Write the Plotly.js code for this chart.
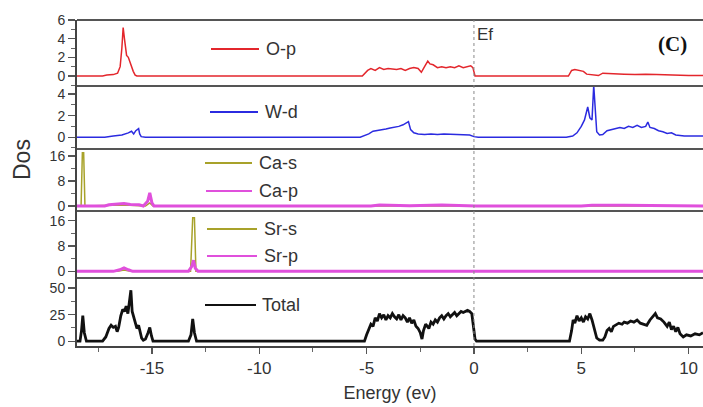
<!DOCTYPE html>
<html>
<head>
<meta charset="utf-8">
<script src="https://cdn.plot.ly/plotly-3.0.1.min.js"></script>
<style>
  html, body { margin: 0; padding: 0; background: #fff; }
  #chart { width: 703px; height: 407px; }
</style>
</head>
<body>
<div id="chart"></div>
<script>
// Partial and total density of states, [energy (eV), DOS] pairs
const opPoints = [
  [-18.49, 0], [-17.3, 0], [-17.1, 0.1], [-16.8, 0.15], [-16.6, 0.3], [-16.48, 1.0], [-16.4, 3.0],
  [-16.34, 5.2], [-16.28, 4.0], [-16.22, 2.6], [-16.18, 2.2], [-16.1, 2.0], [-16.02, 1.4],
  [-15.95, 1.0], [-15.87, 0.5], [-15.78, 0.1], [-15.7, 0], [-5.2, 0], [-5.05, 0.4], [-4.95, 0.6],
  [-4.8, 0.8], [-4.6, 0.6], [-4.4, 0.9], [-4.2, 0.7], [-4.0, 0.8], [-3.8, 0.75], [-3.6, 0.7],
  [-3.4, 0.8], [-3.2, 0.6], [-3.0, 0.8], [-2.8, 0.9], [-2.6, 0.8], [-2.45, 0.4], [-2.3, 1.0],
  [-2.15, 1.6], [-2.05, 1.3], [-1.9, 1.2], [-1.7, 0.9], [-1.5, 1.0], [-1.3, 0.9], [-1.1, 1.0],
  [-0.9, 0.9], [-0.7, 1.1], [-0.5, 0.9], [-0.3, 1.0], [-0.15, 1.1], [-0.05, 0.9], [0.05, 0],
  [4.4, 0], [4.55, 0.6], [4.7, 0.7], [4.9, 0.6], [5.1, 0.5], [5.25, 0.2], [5.4, 0.15], [5.6, 0.1],
  [5.8, 0.05], [6.0, 0.3], [6.3, 0.25], [6.6, 0.2], [7.0, 0.2], [7.5, 0.15], [8.0, 0.2], [8.5, 0.15],
  [9.0, 0.1], [9.5, 0.1], [10.0, 0.05], [10.67, 0.05]
];

const wdPoints = [
  [-18.49, 0], [-17.2, 0], [-16.8, 0.1], [-16.4, 0.2], [-16.1, 0.4], [-15.95, 0.55], [-15.85, 0.3],
  [-15.75, 0.6], [-15.62, 0.8], [-15.57, 0.3], [-15.5, 0.05], [-15.3, 0], [-5.3, 0], [-5.1, 0.15],
  [-4.9, 0.3], [-4.7, 0.55], [-4.5, 0.6], [-4.3, 0.7], [-4.1, 0.75], [-3.9, 0.85], [-3.7, 0.9],
  [-3.5, 1.0], [-3.3, 1.15], [-3.15, 1.3], [-3.05, 1.45], [-2.95, 0.7], [-2.8, 0.4], [-2.6, 0.3],
  [-2.3, 0.25], [-2.0, 0.3], [-1.7, 0.25], [-1.4, 0.3], [-1.0, 0.25], [-0.6, 0.25], [-0.2, 0.2],
  [0.0, 0.05], [0.2, 0], [4.3, 0], [4.6, 0.1], [4.8, 0.4], [5.0, 1.0], [5.15, 1.6], [5.3, 2.8],
  [5.4, 1.8], [5.5, 1.6], [5.58, 4.8], [5.65, 2.0], [5.72, 0.5], [5.85, 0.2], [6.0, 0.25],
  [6.2, 0.6], [6.4, 0.7], [6.6, 0.8], [6.8, 0.9], [7.0, 0.8], [7.2, 1.0], [7.4, 0.9], [7.6, 1.1],
  [7.8, 0.9], [8.0, 1.0], [8.1, 1.4], [8.2, 0.9], [8.4, 0.8], [8.6, 0.6], [8.8, 0.5], [9.0, 0.35],
  [9.2, 0.4], [9.4, 0.2], [9.6, 0.15], [9.8, 0.1], [10.2, 0.1], [10.67, 0.1]
];

const casPoints = [
  [-18.49, 0], [-18.3, 0], [-18.24, 17], [-18.18, 17], [-18.12, 0], [-17.2, 0], [-16.8, 0.2],
  [-16.3, 0.3], [-15.8, 0.2], [-15.3, 0], [-15.1, 1.0], [-14.95, 0], [10.67, 0]
];

const capPoints = [
  [-18.49, 0], [-17.2, 0], [-17.0, 0.4], [-16.6, 0.5], [-16.3, 0.8], [-16.0, 0.5], [-15.6, 0.4],
  [-15.4, 0], [-15.2, 1.5], [-15.1, 4.2], [-15.0, 1.0], [-14.9, 0], [-4.8, 0], [-4.4, 0.3],
  [-4.0, 0.2], [-3.5, 0.3], [-3.0, 0.1], [-1.5, 0.3], [-1.0, 0.2], [-0.2, 0.2], [0.1, 0],
  [5.0, 0], [5.5, 0.2], [7.0, 0.2], [9.0, 0.1], [10.67, 0]
];

const srsPoints = [
  [-18.49, 0], [-16.6, 0], [-16.3, 0.4], [-16.0, 0], [-13.2, 0], [-13.1, 17], [-13.02, 17],
  [-12.95, 0], [10.67, 0]
];

const srpPoints = [
  [-18.49, 0], [-16.8, 0], [-16.5, 0.5], [-16.3, 1.1], [-16.1, 0.5], [-15.9, 0], [-13.3, 0],
  [-13.15, 1.5], [-13.06, 3.5], [-12.98, 1.0], [-12.85, 0], [-4.5, 0], [-4.0, 0.2], [-3.0, 0.2],
  [-1.0, 0.2], [0.0, 0], [10.67, 0]
];

const totalPoints = [
  [-18.49, 0], [-18.35, 0], [-18.28, 10], [-18.22, 24], [-18.15, 8], [-18.05, 0], [-17.3, 0],
  [-17.15, 4], [-17.0, 12], [-16.9, 15], [-16.8, 13], [-16.7, 14], [-16.62, 9], [-16.55, 13],
  [-16.45, 24], [-16.36, 30], [-16.28, 28], [-16.2, 33], [-16.12, 26], [-16.05, 38], [-15.98, 48],
  [-15.92, 28], [-15.85, 22], [-15.78, 18], [-15.7, 12], [-15.62, 15], [-15.55, 8], [-15.48, 3],
  [-15.4, 1], [-15.3, 2], [-15.18, 8], [-15.1, 13], [-15.02, 5], [-14.95, 0], [-13.3, 0],
  [-13.18, 6], [-13.1, 21], [-13.02, 8], [-12.92, 0], [-5.1, 0], [-5.0, 6], [-4.9, 12], [-4.8, 16],
  [-4.7, 14], [-4.6, 22], [-4.5, 19], [-4.4, 26], [-4.3, 22], [-4.2, 25], [-4.1, 20], [-4.0, 24],
  [-3.9, 22], [-3.8, 26], [-3.7, 23], [-3.6, 21], [-3.5, 25], [-3.4, 20], [-3.3, 24], [-3.2, 22],
  [-3.1, 18], [-3.0, 22], [-2.9, 17], [-2.8, 20], [-2.7, 14], [-2.6, 12], [-2.5, 8], [-2.42, 2],
  [-2.35, 10], [-2.25, 16], [-2.1, 12], [-2.0, 18], [-1.9, 16], [-1.8, 20], [-1.7, 18], [-1.6, 22],
  [-1.5, 24], [-1.4, 21], [-1.3, 24], [-1.2, 26], [-1.1, 23], [-1.0, 25], [-0.9, 27], [-0.8, 24],
  [-0.7, 26], [-0.6, 28], [-0.5, 27], [-0.4, 28], [-0.3, 29], [-0.2, 28], [-0.1, 26], [-0.03, 15],
  [0.05, 2], [0.12, 0], [4.45, 0], [4.55, 10], [4.62, 20], [4.7, 17], [4.8, 24], [4.9, 19],
  [5.0, 22], [5.1, 18], [5.2, 23], [5.3, 21], [5.4, 26], [5.5, 20], [5.58, 14], [5.65, 8],
  [5.72, 3], [5.85, 1], [6.0, 1], [6.1, 4], [6.2, 10], [6.3, 12], [6.4, 9], [6.5, 14], [6.6, 15],
  [6.75, 17], [6.9, 16], [7.0, 18], [7.15, 17], [7.3, 19], [7.45, 18], [7.6, 20], [7.75, 17],
  [7.9, 16], [8.05, 15], [8.2, 20], [8.35, 24], [8.45, 26], [8.55, 22], [8.7, 21], [8.85, 18],
  [9.0, 14], [9.1, 18], [9.2, 11], [9.3, 14], [9.4, 9], [9.5, 13], [9.6, 7], [9.75, 4], [9.9, 6],
  [10.1, 5], [10.3, 7], [10.5, 6], [10.67, 8]
];

const seriesNames = ['O-p', 'W-d', 'Ca-s', 'Ca-p', 'Sr-s', 'Sr-p', 'Total'];
const energyTicks = [-15, -10, -5, 0, 5, 10];

// Series styling: panel (y axis), colour, width, legend entry position (px)
const series = [
  { pts: opPoints,    axis: 'y',  color: '#e3262c', width: 1.5, lx0: 211, lx1: 259, ly: 49,  tx: 264 },
  { pts: wdPoints,    axis: 'y2', color: '#2b2be0', width: 1.5, lx0: 210, lx1: 258, ly: 112, tx: 263 },
  { pts: casPoints,   axis: 'y3', color: '#a8a22a', width: 1.5, lx0: 205, lx1: 252, ly: 163, tx: 257 },
  { pts: capPoints,   axis: 'y3', color: '#e050dc', width: 3,   lx0: 206, lx1: 252, ly: 191, tx: 257 },
  { pts: srsPoints,   axis: 'y4', color: '#a8a22a', width: 1.5, lx0: 207, lx1: 257, ly: 229, tx: 262 },
  { pts: srpPoints,   axis: 'y4', color: '#e050dc', width: 3,   lx0: 207, lx1: 257, ly: 256, tx: 262 },
  { pts: totalPoints, axis: 'y5', color: '#111111', width: 2.8, lx0: 205, lx1: 256, ly: 305, tx: 260 }
];

const W = 703, H = 407;
const M = { l: 77, r: 0, t: 20, b: 61 };
const plotW = W - M.l - M.r, plotH = H - M.t - M.b;
const px2x = p => (p - M.l) / plotW;
const px2y = p => (H - M.b - p) / plotH;

const traces = series.map((s, i) => ({
  type: 'scatter',
  mode: 'lines',
  name: seriesNames[i],
  x: s.pts.map(p => p[0]),
  y: s.pts.map(p => p[1]),
  yaxis: s.axis,
  xaxis: 'x',
  line: { color: s.color, width: s.width },
  showlegend: false,
  hoverinfo: 'skip'
}));

const font = 'Liberation Sans, Arial, sans-serif';
const yTickFont = { family: font, size: 14, color: '#333' };

function yAxis(domain, range, dtick, minor) {
  return {
    domain: domain, range: range, dtick: dtick, tick0: 0,
    ticks: 'outside', ticklen: 7, tickwidth: 1.3, tickcolor: '#555',
    minor: { dtick: minor, ticks: 'outside', ticklen: 4, tickwidth: 1, tickcolor: '#666', showgrid: false },
    showgrid: false, zeroline: false,
    showline: true, linecolor: '#444', linewidth: 2,
    tickfont: yTickFont, anchor: 'x', fixedrange: true
  };
}

// Panel boundaries in pixels from the top
const bounds = [20, 86, 149, 211, 278, 346];
const dom = i => [px2y(bounds[i + 1]), px2y(bounds[i])];

const shapes = [];
// horizontal panel separators
for (let i = 0; i < bounds.length - 1; i++) {
  shapes.push({ type: 'line', xref: 'paper', yref: 'paper', x0: 0, x1: 1,
    y0: px2y(bounds[i]), y1: px2y(bounds[i]), line: { color: '#555', width: 2 } });
}
// Fermi level
shapes.push({ type: 'line', xref: 'x', yref: 'paper', x0: 0, x1: 0, y0: 0, y1: 1,
  line: { color: '#8a8a8a', width: 1, dash: 'dot' } });

const annotations = [
  { xref: 'paper', yref: 'paper', x: px2x(22), y: px2y(160), xanchor: 'center', yanchor: 'middle',
    text: 'Dos', textangle: -90,
    showarrow: false, font: { family: font, size: 23, color: '#333' } },
  { xref: 'x', yref: 'paper', x: 0, y: px2y(35), xanchor: 'left', yanchor: 'middle', xshift: 1, text: 'Ef',
    showarrow: false, font: { family: font, size: 17, color: '#333' } },
  { xref: 'x', yref: 'y', x: 9.27, y: 3.43, xanchor: 'center', yanchor: 'middle', text: '<b>(C)</b>', showarrow: false,
    font: { family: 'Liberation Serif, Times New Roman, serif', size: 21, color: '#111' } }
];

// Legend entries: sample line plus series name
series.forEach((s, i) => {
  shapes.push({ type: 'line', xref: 'paper', yref: 'paper',
    x0: px2x(s.lx0), x1: px2x(s.lx1), y0: px2y(s.ly), y1: px2y(s.ly),
    line: { color: s.color, width: 2 } });
  annotations.push({ xref: 'paper', yref: 'paper', x: px2x(s.tx), y: px2y(s.ly),
    xanchor: 'left', yanchor: 'middle', text: seriesNames[i], showarrow: false,
    font: { family: font, size: 18, color: '#333' } });
});

const layout = {
  width: W, height: H,
  margin: M,
  paper_bgcolor: '#fff', plot_bgcolor: '#fff',
  showlegend: false,
  xaxis: {
    range: [-18.49, 10.67], anchor: 'y5',
    tickvals: energyTicks, ticktext: energyTicks.map(String),
    ticks: 'outside', ticklen: 6, tickwidth: 1.3, tickcolor: '#555',
    minor: { dtick: 2.5, tick0: 0, ticks: 'outside', ticklen: 4, tickwidth: 1, tickcolor: '#666', showgrid: false },
    showgrid: false, zeroline: false,
    showline: true, linecolor: '#444', linewidth: 2,
    tickfont: { family: font, size: 17, color: '#333' },
    title: { text: 'Energy (ev)', font: { family: font, size: 18, color: '#333' }, standoff: 9 },
    fixedrange: true
  },
  yaxis:  yAxis(dom(0), [-1.07, 6], 2, 1),
  yaxis2: yAxis(dom(1), [-1.1, 4.75], 2, 1),
  yaxis3: yAxis(dom(2), [-1.6, 18.2], 8, 4),
  yaxis4: yAxis(dom(3), [-2.1, 19.1], 8, 4),
  yaxis5: yAxis(dom(4), [-4.5, 59.5], 25, 12.5),
  shapes: shapes,
  annotations: annotations
};

Plotly.newPlot('chart', traces, layout, { staticPlot: true, displayModeBar: false });
</script>
</body>
</html>
